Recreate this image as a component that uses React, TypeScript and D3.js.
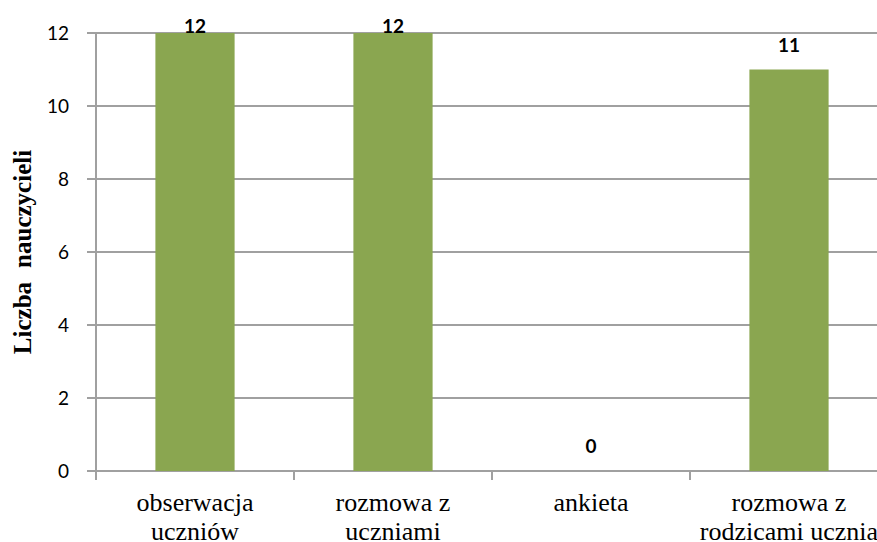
import { useEffect, useRef } from "react";
import * as d3 from "d3";

const categories = [
  ["obserwacja", "uczniów"],
  ["rozmowa z", "uczniami"],
  ["ankieta"],
  ["rozmowa z", "rodzicami ucznia"],
];
const values = [12, 12, 0, 11];
const yTicks = [0, 2, 4, 6, 8, 10, 12];
const yTitle = ["Liczba", "nauczycieli"];

const serif = "'Liberation Serif', 'Times New Roman', Times, serif";
const sans = "Lato, 'Open Sans', sans-serif";

const App = () => {
  const chartRef = useRef<SVGSVGElement>(null);

  useEffect(() => {
    const svg = d3.select(chartRef.current);
    svg.selectAll("*").remove();

    const width = 877;
    const height = 542;
    const margin = { top: 33, left: 96, bottom: 71 };

    svg.attr("width", width).attr("height", height);

    const x = d3
      .scaleBand<number>()
      .domain(values.map((_, i) => i))
      .range([margin.left, margin.left + 198 * 4])
      .paddingInner(0.6)
      .paddingOuter(0.3);

    const y = d3
      .scaleLinear()
      .domain([0, 12])
      .range([height - margin.bottom, margin.top]);

    const grid = "#a0a0a0";

    // gridlines
    svg
      .append("g")
      .selectAll("line")
      .data(yTicks)
      .join("line")
      .attr("x1", margin.left - 9)
      .attr("x2", width)
      .attr("y1", (d) => y(d))
      .attr("y2", (d) => y(d))
      .attr("stroke", grid)
      .attr("stroke-width", 2);

    // y axis line
    svg
      .append("line")
      .attr("x1", margin.left)
      .attr("x2", margin.left)
      .attr("y1", y(12))
      .attr("y2", y(0))
      .attr("stroke", grid)
      .attr("stroke-width", 2);

    // x category ticks
    const bounds = values.map((_, i) => x(i)! - (x.step() - x.bandwidth()) / 2);
    svg
      .append("g")
      .selectAll("line")
      .data(bounds)
      .join("line")
      .attr("x1", (d) => d)
      .attr("x2", (d) => d)
      .attr("y1", y(0))
      .attr("y2", y(0) + 9)
      .attr("stroke", grid)
      .attr("stroke-width", 2);

    // y tick labels
    svg
      .append("g")
      .selectAll("text")
      .data(yTicks)
      .join("text")
      .attr("x", 69)
      .attr("y", (d) => y(d))
      .attr("dy", "0.35em")
      .attr("text-anchor", "end")
      .style("font-family", sans)
      .style("font-size", "19px")
      .attr("fill", "#000")
      .text((d) => d);

    // bars
    svg
      .append("g")
      .selectAll("rect")
      .data(values)
      .join("rect")
      .attr("x", (_, i) => x(i)!)
      .attr("y", (d) => y(d))
      .attr("width", x.bandwidth())
      .attr("height", (d) => y(0) - y(d))
      .attr("fill", "#8aa650");

    // value labels, kept inside the plot area at the top
    svg
      .append("g")
      .selectAll("text")
      .data(values)
      .join("text")
      .attr("x", (_, i) => x(i)! + x.bandwidth() / 2)
      .attr("y", (d) => Math.max(y(d) - 18, y(12)))
      .attr("text-anchor", "middle")
      .style("font-family", sans)
      .style("font-weight", "bold")
      .style("font-size", "19px")
      .attr("fill", "#000")
      .text((d) => d);

    // category labels
    categories.forEach((lines, i) => {
      const cx = x(i)! + x.bandwidth() / 2;
      lines.forEach((line, j) => {
        svg
          .append("text")
          .attr("x", cx)
          .attr("y", 511 + j * 29)
          .attr("text-anchor", "middle")
          .style("font-family", serif)
          .style("font-size", "26px")
          .attr("fill", "#000")
          .text(line);
      });
    });

    // y axis title (two words, wide gap)
    const title = svg
      .append("text")
      .attr("transform", `translate(31,${(y(0) + y(12)) / 2}) rotate(-90)`)
      .attr("text-anchor", "middle")
      .style("font-family", serif)
      .style("font-weight", "bold")
      .style("font-size", "25px")
      .attr("fill", "#000");
    title.append("tspan").text(yTitle[0]);
    title.append("tspan").attr("dx", 14).text(yTitle[1]);
  }, []);

  return (
    <div style={{ position: "absolute", left: 0, top: 0 }}>
      <svg ref={chartRef}></svg>
    </div>
  );
};

export default App;
